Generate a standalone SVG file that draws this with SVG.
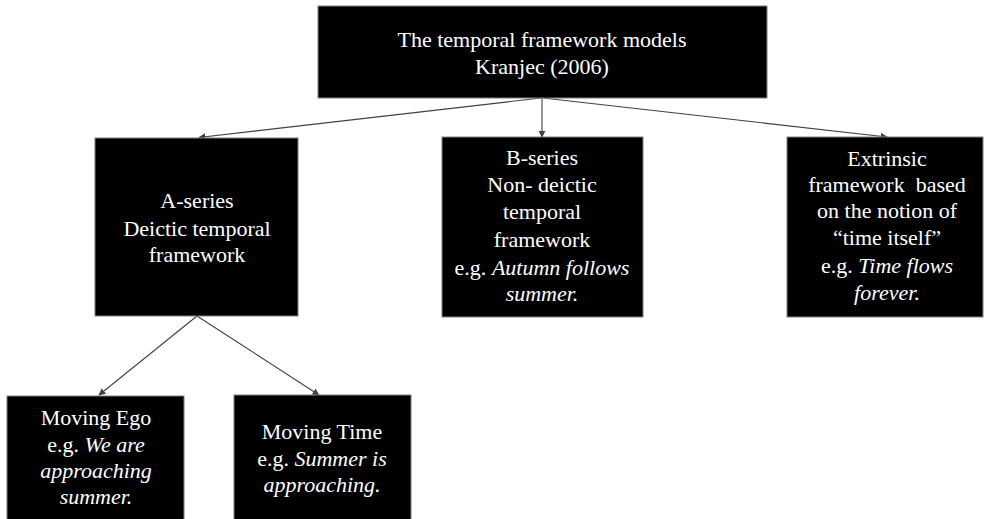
<svg xmlns="http://www.w3.org/2000/svg" width="984" height="519" viewBox="0 0 984 519">
  <style>
    .box { fill: #000; stroke: #7f7f7f; stroke-width: 1; }
    .lbl { font-family: 'Liberation Serif', Tinos, 'Times New Roman', Times, 'DejaVu Serif', serif; font-size: 22px; fill: #fff; text-anchor: middle; }
    .it { font-style: italic; }
    .edge { stroke: #404040; stroke-width: 1.1; fill: none; marker-end: url(#arrow); }
  </style>
  <defs>
    <marker id="arrow" viewBox="0 0 10 10" refX="9" refY="5" markerWidth="7" markerHeight="7" orient="auto" markerUnits="userSpaceOnUse">
      <path d="M0,0 L10,5 L0,10 z" fill="#404040"/>
    </marker>
  </defs>
  <rect width="984" height="519" fill="#fff"/>

  <g id="connectors">
    <line class="edge" x1="541" y1="98" x2="199" y2="137.5"/>
    <line class="edge" x1="542" y1="98" x2="542" y2="137"/>
    <line class="edge" x1="543" y1="98" x2="887" y2="137"/>
    <line class="edge" x1="197" y1="316" x2="99" y2="395"/>
    <line class="edge" x1="197" y1="316" x2="319" y2="395"/>
  </g>

  <g id="root">
    <rect class="box" x="318" y="6" width="449" height="92"/>
    <text class="lbl" x="542" y="47">The temporal framework models</text>
    <text class="lbl" x="542" y="74">Kranjec (2006)</text>
  </g>

  <g id="a-series">
    <rect class="box" x="95" y="138" width="203" height="178"/>
    <text class="lbl" x="197" y="208">A-series</text>
    <text class="lbl" x="197" y="236">Deictic temporal</text>
    <text class="lbl" x="197" y="262">framework</text>
  </g>

  <g id="b-series">
    <rect class="box" x="442" y="137" width="201" height="180"/>
    <text class="lbl" x="542" y="165">B-series</text>
    <text class="lbl" x="542" y="192">Non- deictic</text>
    <text class="lbl" x="542" y="219">temporal</text>
    <text class="lbl" x="542" y="247">framework</text>
    <text class="lbl" x="542" y="275">e.g. <tspan class="it">Autumn follows</tspan></text>
    <text class="lbl it" x="542" y="301">summer.</text>
  </g>

  <g id="extrinsic">
    <rect class="box" x="787" y="137" width="196" height="180"/>
    <text class="lbl" x="887" y="166">Extrinsic</text>
    <text class="lbl" x="887" y="192" xml:space="preserve">framework  based</text>
    <text class="lbl" x="887" y="218">on the notion of</text>
    <text class="lbl" x="887" y="245">“time itself”</text>
    <text class="lbl" x="887" y="273">e.g. <tspan class="it">Time flows</tspan></text>
    <text class="lbl it" x="887" y="300">forever.</text>
  </g>

  <g id="moving-ego">
    <rect class="box" x="7" y="396" width="177" height="130"/>
    <text class="lbl" x="96" y="425">Moving Ego</text>
    <text class="lbl" x="96" y="452">e.g. <tspan class="it">We are</tspan></text>
    <text class="lbl it" x="96" y="478">approaching</text>
    <text class="lbl it" x="96" y="504">summer.</text>
  </g>

  <g id="moving-time">
    <rect class="box" x="234" y="395" width="177" height="131"/>
    <text class="lbl" x="322" y="439">Moving Time</text>
    <text class="lbl" x="322" y="466">e.g. <tspan class="it">Summer is</tspan></text>
    <text class="lbl it" x="322" y="492">approaching.</text>
  </g>
</svg>
